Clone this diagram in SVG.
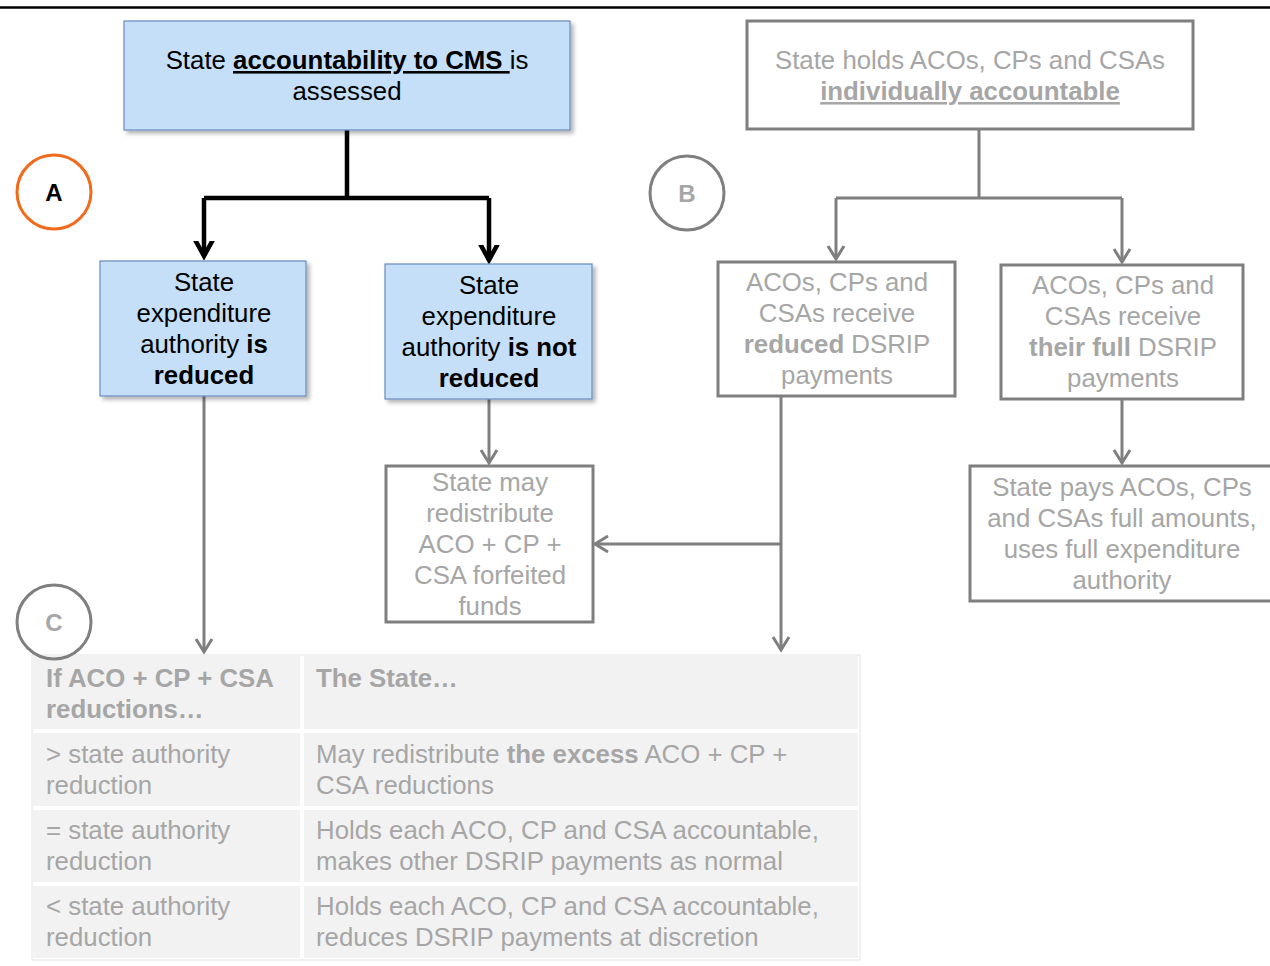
<svg xmlns="http://www.w3.org/2000/svg" width="1270" height="966" viewBox="0 0 1270 966">
<style>
text{font-family:"Liberation Sans",Arial,sans-serif;font-size:25.8px}
.c{text-anchor:middle}
.blk{fill:#000}
.gry{fill:#a6a6a6}
.b{font-weight:bold}
.u{text-decoration:underline}
.lbl{font-size:24px}
.blue{fill:#c5dff8;stroke:#6a8cbf;stroke-width:1.2}
.gbox{fill:#fff;stroke:#7f7f7f;stroke-width:3}
.cell{fill:#f2f2f2}
.lk{fill:none;stroke:#000;stroke-width:4.5}
.lg{fill:none;stroke:#7f7f7f;stroke-width:3}
</style>
<defs>
<filter id="sh" x="-10%" y="-10%" width="130%" height="130%">
<feDropShadow dx="3" dy="3" stdDeviation="2" flood-color="#000" flood-opacity="0.3"/>
</filter>
<marker id="ak" markerUnits="userSpaceOnUse" markerWidth="30" markerHeight="30" viewBox="-15 -15 30 30" refX="0" refY="0" orient="auto">
<path d="M-20,-11 L0,0 L-20,11" fill="none" stroke="#000" stroke-width="4.5"/>
</marker>
<marker id="ag" markerUnits="userSpaceOnUse" markerWidth="30" markerHeight="30" viewBox="-15 -15 30 30" refX="0" refY="0" orient="auto">
<path d="M-13,-8 L0,0 L-13,8" fill="none" stroke="#7f7f7f" stroke-width="3"/>
</marker>
</defs>
<rect width="1270" height="966" fill="#fff"/>
<line x1="0" y1="7.5" x2="1270" y2="7.5" stroke="#000" stroke-width="2.5"/>

<g id="connectors">
<path class="lk" d="M347,130 V198 M204,198 H489"/>
<path class="lk" d="M204,198 V256" marker-end="url(#ak)"/>
<path class="lk" d="M489,198 V260" marker-end="url(#ak)"/>
<path class="lg" d="M979,130 V198 M836,198 H1122"/>
<path class="lg" d="M836,198 V259" marker-end="url(#ag)"/>
<path class="lg" d="M1122,198 V262" marker-end="url(#ag)"/>
<path class="lg" d="M1122,400 V463" marker-end="url(#ag)"/>
<path class="lg" d="M204,396 V652" marker-end="url(#ag)"/>
<path class="lg" d="M489,399 V463" marker-end="url(#ag)"/>
<path class="lg" d="M781,397 V650" marker-end="url(#ag)"/>
<path class="lg" d="M781,544 H595" marker-end="url(#ag)"/>
</g>

<g id="circleA">
<circle cx="54" cy="192" r="37" fill="#fff" stroke="#f26b1d" stroke-width="3"/>
<text x="54" y="200.5" class="c b blk lbl">A</text>
</g>
<g id="circleB">
<circle cx="687" cy="193" r="37" fill="#fff" stroke="#7f7f7f" stroke-width="3"/>
<text x="687" y="201.5" class="c b gry lbl">B</text>
</g>

<g id="nodeTop">
<rect x="124" y="21" width="446" height="109" class="blue" filter="url(#sh)"/>
<text x="347" y="69" class="c blk">State <tspan class="b u">accountability to CMS </tspan>is</text>
<text x="347" y="100" class="c blk">assessed</text>
</g>
<g id="nodeReduced">
<rect x="100" y="261" width="206" height="135" class="blue" filter="url(#sh)"/>
<text x="204" y="291" class="c blk">State</text>
<text x="204" y="322" class="c blk">expenditure</text>
<text x="204" y="353" class="c blk">authority <tspan class="b">is</tspan></text>
<text x="204" y="384" class="c blk b">reduced</text>
</g>
<g id="nodeNotReduced">
<rect x="385" y="264" width="207" height="135" class="blue" filter="url(#sh)"/>
<text x="489" y="294" class="c blk">State</text>
<text x="489" y="325" class="c blk">expenditure</text>
<text x="489" y="356" class="c blk">authority <tspan class="b">is not</tspan></text>
<text x="489" y="387" class="c blk b">reduced</text>
</g>

<g id="nodeIndividually">
<rect x="747" y="21" width="446" height="108" class="gbox"/>
<text x="970" y="69" class="c gry">State holds ACOs, CPs and CSAs</text>
<text x="970" y="100" class="c gry b u">individually accountable</text>
</g>
<g id="nodeReducedDSRIP">
<rect x="718" y="262" width="237" height="134" class="gbox"/>
<text x="837" y="291" class="c gry">ACOs, CPs and</text>
<text x="837" y="322" class="c gry">CSAs receive</text>
<text x="837" y="353" class="c gry"><tspan class="b">reduced</tspan> DSRIP</text>
<text x="837" y="384" class="c gry">payments</text>
</g>
<g id="nodeFullDSRIP">
<rect x="1001" y="265" width="242" height="134" class="gbox"/>
<text x="1123" y="294" class="c gry">ACOs, CPs and</text>
<text x="1123" y="325" class="c gry">CSAs receive</text>
<text x="1123" y="356" class="c gry"><tspan class="b">their full</tspan> DSRIP</text>
<text x="1123" y="387" class="c gry">payments</text>
</g>
<g id="nodeStatePays">
<rect x="970" y="466" width="310" height="135" class="gbox"/>
<text x="1122" y="496" class="c gry">State pays ACOs, CPs</text>
<text x="1122" y="527" class="c gry">and CSAs full amounts,</text>
<text x="1122" y="558" class="c gry">uses full expenditure</text>
<text x="1122" y="589" class="c gry">authority</text>
</g>
<g id="nodeStateMay">
<rect x="386" y="466" width="207" height="156" class="gbox"/>
<text x="490" y="491" class="c gry">State may</text>
<text x="490" y="522" class="c gry">redistribute</text>
<text x="490" y="553" class="c gry">ACO + CP +</text>
<text x="490" y="584" class="c gry">CSA forfeited</text>
<text x="490" y="615" class="c gry">funds</text>
</g>

<g id="table">
<rect x="32" y="655" width="828" height="305" fill="#fff" stroke="#e3e3e3" stroke-width="1"/>
<rect class="cell" x="33" y="656" width="267" height="73"/>
<rect class="cell" x="304" y="656" width="554" height="73"/>
<rect class="cell" x="33" y="733" width="267" height="73"/>
<rect class="cell" x="304" y="733" width="554" height="73"/>
<rect class="cell" x="33" y="810" width="267" height="72"/>
<rect class="cell" x="304" y="810" width="554" height="72"/>
<rect class="cell" x="33" y="886" width="267" height="72"/>
<rect class="cell" x="304" y="886" width="554" height="72"/>
<text x="46" y="687" class="gry b">If ACO + CP + CSA</text>
<text x="46" y="718" class="gry b">reductions…</text>
<text x="316" y="687" class="gry b">The State…</text>
<text x="46" y="763" class="gry">&gt; state authority</text>
<text x="46" y="794" class="gry">reduction</text>
<text x="316" y="763" class="gry">May redistribute <tspan class="b">the excess</tspan> ACO + CP +</text>
<text x="316" y="794" class="gry">CSA reductions</text>
<text x="46" y="839" class="gry">= state authority</text>
<text x="46" y="870" class="gry">reduction</text>
<text x="316" y="839" class="gry">Holds each ACO, CP and CSA accountable,</text>
<text x="316" y="870" class="gry">makes other DSRIP payments as normal</text>
<text x="46" y="915" class="gry">&lt; state authority</text>
<text x="46" y="946" class="gry">reduction</text>
<text x="316" y="915" class="gry">Holds each ACO, CP and CSA accountable,</text>
<text x="316" y="946" class="gry">reduces DSRIP payments at discretion</text>
</g>

<g id="circleC">
<circle cx="54" cy="622" r="37" fill="none" stroke="#7f7f7f" stroke-width="3"/>
<text x="54" y="630.5" class="c b gry lbl">C</text>
</g>
</svg>
